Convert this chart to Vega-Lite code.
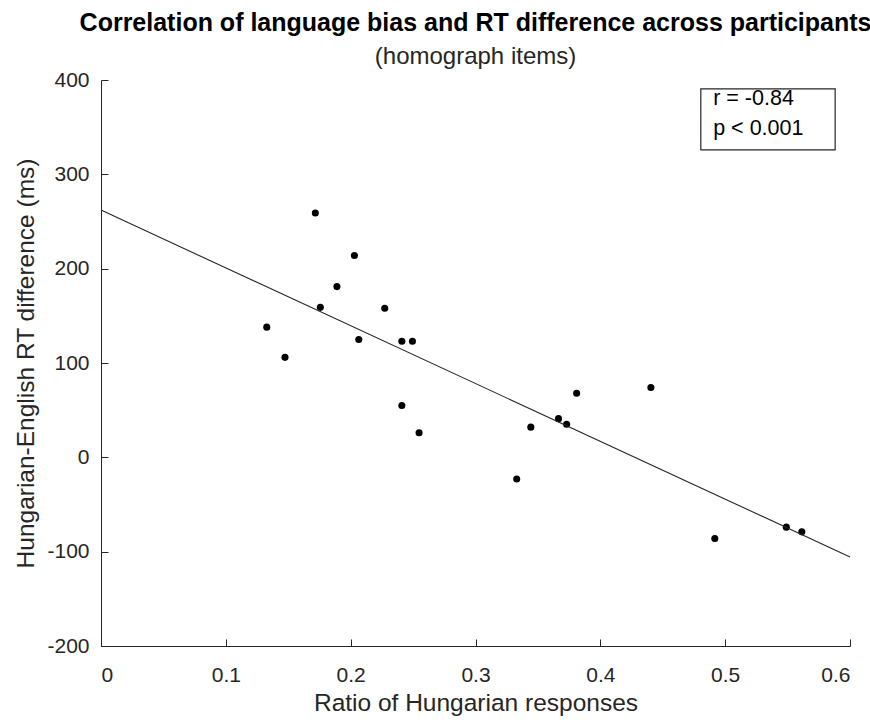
{
  "$schema": "https://vega.github.io/schema/vega-lite/v6.json",
  "width": 749,
  "height": 566,
  "autosize": {"type": "none"},
  "padding": {"left": 101, "top": 80, "right": 20, "bottom": 74},
  "background": "white",
  "config": {
    "view": {"stroke": null},
    "font": "Liberation Sans",
    "axis": {
      "grid": false,
      "domainColor": "#262626",
      "tickColor": "#262626",
      "labelColor": "#262626",
      "titleColor": "#262626",
      "labelFontSize": 21,
      "titleFontSize": 24.5,
      "titleFontWeight": "normal",
      "tickSize": -7,
      "domainWidth": 1,
      "tickWidth": 1
    }
  },
  "title": {
    "text": "Correlation of language bias and RT difference across participants",
    "subtitle": "(homograph items)",
    "fontSize": 25,
    "fontWeight": "bold",
    "color": "black",
    "subtitleFontSize": 24,
    "subtitleColor": "#262626",
    "anchor": "middle",
    "frame": "group",
    "offset": 0,
    "subtitlePadding": 9,
    "limit": 0
  },
  "data": {
    "values": [
      {"ratio": 0.1717, "rt": 259},
      {"ratio": 0.203, "rt": 214},
      {"ratio": 0.189, "rt": 181},
      {"ratio": 0.1757, "rt": 159},
      {"ratio": 0.2273, "rt": 158},
      {"ratio": 0.1328, "rt": 138},
      {"ratio": 0.2065, "rt": 125},
      {"ratio": 0.241, "rt": 123},
      {"ratio": 0.2495, "rt": 123},
      {"ratio": 0.1474, "rt": 106},
      {"ratio": 0.241, "rt": 55},
      {"ratio": 0.2548, "rt": 26},
      {"ratio": 0.381, "rt": 68},
      {"ratio": 0.4405, "rt": 74},
      {"ratio": 0.3665, "rt": 41},
      {"ratio": 0.373, "rt": 35},
      {"ratio": 0.3443, "rt": 32},
      {"ratio": 0.333, "rt": -23},
      {"ratio": 0.4917, "rt": -86},
      {"ratio": 0.549, "rt": -74},
      {"ratio": 0.5614, "rt": -79}
    ]
  },
  "layer": [
    {
      "mark": {"type": "point", "filled": true, "color": "black", "size": 50, "opacity": 1},
      "encoding": {
        "x": {
          "field": "ratio",
          "type": "quantitative",
          "scale": {"domain": [0, 0.6], "nice": false},
          "axis": {"title": "Ratio of Hungarian responses", "values": [0, 0.1, 0.2, 0.3, 0.4, 0.5, 0.6], "format": "~g", "labelPadding": 25, "titlePadding": 6}
        },
        "y": {
          "field": "rt",
          "type": "quantitative",
          "scale": {"domain": [-200, 400], "nice": false},
          "axis": {"title": "Hungarian-English RT difference (ms)", "values": [-200, -100, 0, 100, 200, 300, 400], "labelExpr": "replace(datum.label, '\u2212', '-')", "labelPadding": 19, "titlePadding": 8}
        }
      }
    },
    {
      "transform": [{"regression": "rt", "on": "ratio", "method": "linear", "extent": [0, 0.6]}],
      "mark": {"type": "line", "color": "#262626", "strokeWidth": 1.1},
      "encoding": {
        "x": {"field": "ratio", "type": "quantitative"},
        "y": {"field": "rt", "type": "quantitative"}
      }
    },
    {
      "data": {"values": [{}]},
      "mark": {"type": "rect", "fill": "white", "stroke": "#262626", "strokeWidth": 1.2},
      "encoding": {
        "x": {"datum": 0.4805},
        "x2": {"datum": 0.5881},
        "y": {"datum": 390.5},
        "y2": {"datum": 326}
      }
    },
    {
      "data": {"values": [{"label": "r = -0.84", "ly": 373.5}, {"label": "p < 0.001", "ly": 341.8}]},
      "mark": {"type": "text", "align": "left", "baseline": "alphabetic", "fontSize": 21.5, "color": "black"},
      "encoding": {
        "x": {"datum": 0.4904},
        "y": {"field": "ly", "type": "quantitative"},
        "text": {"field": "label"}
      }
    }
  ]
}
